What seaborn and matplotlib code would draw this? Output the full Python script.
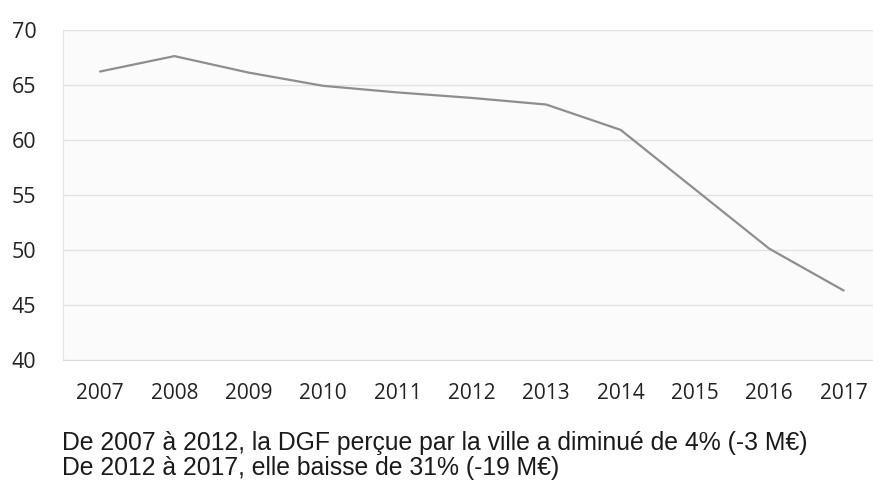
import matplotlib
matplotlib.use("Agg")
import matplotlib.pyplot as plt
import seaborn as sns
import pandas as pd

# DGF received by the city (M€)
years = ["2007", "2008", "2009", "2010", "2011", "2012",
         "2013", "2014", "2015", "2016", "2017"]
dgf = [66.2, 67.6, 66.1, 64.9, 64.3, 63.8, 63.2, 60.9, 55.5, 50.1, 46.3]
y_ticks = [40, 45, 50, 55, 60, 65, 70]
caption = ["De 2007 à 2012, la DGF perçue par la ville a diminué de 4% (-3 M€)",
           "De 2012 à 2017, elle baisse de 31% (-19 M€)"]

df = pd.DataFrame({"year": years, "dgf": dgf})

sns.set_style("white")
plt.rcParams["font.family"] = ["Open Sans", "DejaVu Sans"]

fig = plt.figure(figsize=(8.73, 4.95), dpi=100)
fig.patch.set_facecolor("white")
# plot area runs slightly past the right edge, as in the scan
ax = fig.add_axes([0.072, 0.273, 0.937, 0.667])
ax.set_facecolor("#fbfbfb")

sns.lineplot(data=df, x="year", y="dgf", ax=ax, color="#8e8e8e", linewidth=1.6)

ax.set_xlim(-0.5, len(years) - 0.5)
ax.set_ylim(40, 70)
ax.set_yticks(y_ticks)
ax.grid(axis="y", color="#e2e2e2", linewidth=1)
ax.set_axisbelow(True)
ax.set_xlabel("")
ax.set_ylabel("")

for side in ["top", "right"]:
    ax.spines[side].set_visible(False)
ax.spines["left"].set_color("#e4e4e4")
ax.spines["bottom"].set_color("#dcdcdc")

# ticks between categories, labels centred on them
ax.set_xticks([i - 0.5 for i in range(len(years) + 1)], minor=True)
ax.tick_params(axis="x", which="minor", length=6, color="#dcdcdc", width=1)
ax.tick_params(axis="x", which="major", length=0, pad=17, labelsize=15, labelcolor="#222222")
ax.tick_params(axis="y", length=0, pad=19, labelsize=15.5, labelcolor="#222222")

fig.text(0.071, 0.091, caption[0], fontsize=17.8, family="Liberation Sans", color="#1a1a1a")
fig.text(0.071, 0.040, caption[1], fontsize=17.8, family="Liberation Sans", color="#1a1a1a")

fig.savefig("out.png", dpi=100)
